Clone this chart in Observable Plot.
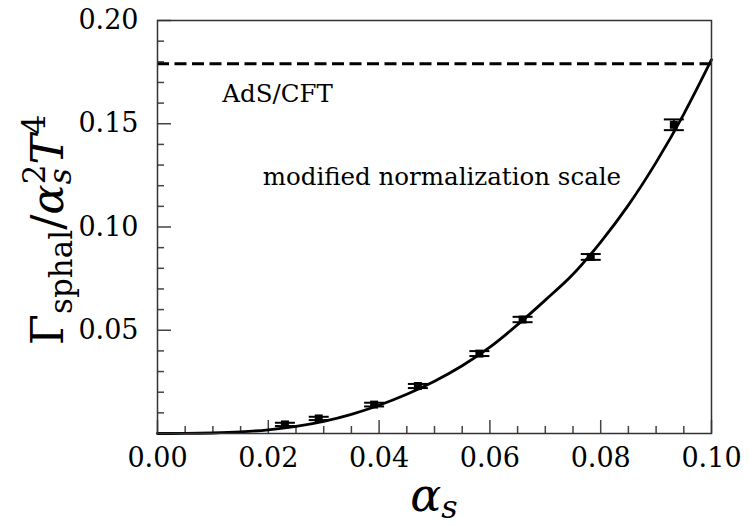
<!DOCTYPE html>
<html><head><meta charset="utf-8">
<script src="https://cdn.jsdelivr.net/npm/d3@7"></script>
<script src="https://cdn.jsdelivr.net/npm/@observablehq/plot@0.6"></script>
<style>body{margin:0;background:#fff} svg{display:block}</style>
</head><body><div id="chart"></div>
<script>
// Lattice data points (alpha_s, Gamma/alpha_s^2 T^4, error)
const alphaS = [0.0230, 0.0291, 0.0391, 0.0470, 0.0581, 0.0659, 0.0782, 0.0932];
const gamma  = [0.0044, 0.0073, 0.0140, 0.0230, 0.0387, 0.0552, 0.0855, 0.1495];
const gammaErr = [0.0008, 0.0008, 0.0009, 0.0010, 0.0012, 0.0013, 0.0014, 0.0026];

// Fitted curve
const curveX = [0, 0.005, 0.01, 0.015, 0.02, 0.025, 0.03, 0.035, 0.04, 0.045, 0.05, 0.055, 0.06, 0.065, 0.07, 0.075, 0.08, 0.085, 0.09, 0.095, 0.10];
const curveY = [0, 0.00003, 0.00024, 0.00078, 0.0018, 0.00345, 0.0059, 0.0093, 0.0137, 0.019, 0.0253, 0.0328, 0.0418, 0.0527, 0.0646, 0.0771, 0.0927, 0.1106, 0.1313, 0.1547, 0.181];

// AdS/CFT reference level
const adsCft = [0.179];

// Ticks
const xMajor = [0, 0.02, 0.04, 0.06, 0.08, 0.10];
const xMinor = [0.005, 0.01, 0.015, 0.025, 0.03, 0.035, 0.045, 0.05, 0.055, 0.065, 0.07, 0.075, 0.085, 0.09, 0.095];
const yMajor = [0.05, 0.10, 0.15, 0.20];
const yMinor = [0.01, 0.02, 0.03, 0.04, 0.06, 0.07, 0.08, 0.09, 0.11, 0.12, 0.13, 0.14, 0.16, 0.17, 0.18, 0.19];

const points = alphaS.map((x, i) => ({x, y: gamma[i], e: gammaErr[i]}));
const caps = points.flatMap(d => [{x: d.x, y: d.y - d.e}, {x: d.x, y: d.y + d.e}]);
const curve = curveX.map((x, i) => ({x, y: curveY[i]}));

const capSymbol = {draw(ctx) { ctx.moveTo(-10, 0); ctx.lineTo(10, 0); }};
const fmt = d3.format(".2f");
const tickColor = "#444";

const plot = Plot.plot({
  width: 748, height: 527,
  marginLeft: 157, marginRight: 37, marginTop: 20, marginBottom: 94,
  style: {fontFamily: "DejaVu Serif", background: "white", color: "black"},
  x: {domain: [0, 0.10]},
  y: {domain: [0, 0.20]},
  marks: [
    Plot.axisX(xMinor, {tickSize: -7, text: null, stroke: tickColor, strokeWidth: 1.5, label: null}),
    Plot.axisX(xMajor, {tickSize: -13, text: null, stroke: tickColor, strokeWidth: 1.5, label: null}),
    Plot.axisX(xMajor, {tickSize: 0, tickPadding: 14, tickFormat: fmt, fontSize: 27, label: null}),
    Plot.axisY(yMinor, {tickSize: -7, text: null, stroke: tickColor, strokeWidth: 1.5, label: null}),
    Plot.axisY(yMajor, {tickSize: -14, text: null, stroke: tickColor, strokeWidth: 1.5, label: null}),
    Plot.axisY(yMajor, {tickSize: 0, tickPadding: 19, tickFormat: fmt, fontSize: 27, label: null}),
    Plot.ruleY(adsCft, {stroke: "black", strokeWidth: 3, strokeDasharray: "12,5.5"}),
    Plot.line(curve, {x: "x", y: "y", stroke: "black", strokeWidth: 2.8, curve: "monotone-x"}),
    Plot.ruleX(points, {x: "x", y1: d => d.y - d.e, y2: d => d.y + d.e, stroke: "black", strokeWidth: 1.5}),
    Plot.dot(caps, {x: "x", y: "y", symbol: capSymbol, stroke: "black", strokeWidth: 2, fill: "none"}),
    Plot.dot(points, {x: "x", y: "y", symbol: "square", r: 4.5, fill: "black", stroke: "none"}),
    Plot.text(["AdS/CFT"], {x: 0.0117, y: 0.1605, text: d => d, textAnchor: "start", lineAnchor: "bottom", fontSize: 24.5}),
    Plot.text(["modified normalization scale"], {x: 0.019, y: 0.1205, text: d => d, textAnchor: "start", lineAnchor: "bottom", fontSize: 24.5}),
    Plot.frame({stroke: "#333", strokeWidth: 1.5})
  ]
});

const svg = d3.select(plot);
// x-axis label: alpha_s
const xl = svg.append("text")
  .attr("x", 434).attr("y", 511)
  .attr("text-anchor", "middle")
  .attr("font-family", "DejaVu Serif").attr("font-size", 46).attr("fill", "black");
xl.append("tspan").attr("font-style", "italic").text("α");
xl.append("tspan").attr("font-style", "italic").attr("font-size", 32).attr("dy", 7).text("s");

// y-axis label: Gamma_sphal / alpha_s^2 T^4
const yl = svg.append("text")
  .attr("transform", "translate(63,230) rotate(-90)")
  .attr("text-anchor", "middle")
  .attr("font-family", "DejaVu Serif").attr("font-size", 45).attr("fill", "black");
yl.append("tspan").text("Γ");
yl.append("tspan").attr("font-size", 31).attr("dy", 9).text("sphal");
yl.append("tspan").attr("dy", -9).text("/");
yl.append("tspan").attr("font-style", "italic").text("α");
yl.append("tspan").attr("font-style", "italic").attr("font-size", 31).attr("dy", 8).text("s");
yl.append("tspan").attr("font-size", 31).attr("dx", -16).attr("dy", -26).text("2");
yl.append("tspan").attr("font-style", "italic").attr("dy", 18).text("T");
yl.append("tspan").attr("font-size", 31).attr("dy", -18).text("4");

document.getElementById("chart").appendChild(plot);
</script>
</body></html>
